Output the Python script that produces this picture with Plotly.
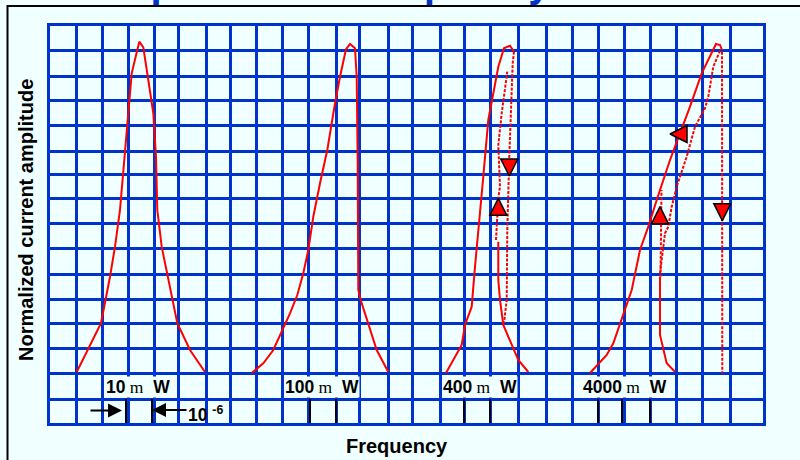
import plotly.graph_objects as go

BG = "#F0FFFF"
GRID = "#0033CC"
RED = "#FF0000"
FONT = "Liberation Sans, Arial, sans-serif"

# ---- axes (arbitrary frequency / amplitude units) ----
X_MAX = 713
Y_MAX = 397
X_GRID = [26, 52, 78, 104, 128, 156, 180, 206, 232, 258, 286, 309, 338, 362,
          390, 414, 440, 468, 496, 522, 548, 574, 600, 626, 652, 680]
Y_GRID = [24, 50, 75, 100, 124, 149, 175, 200, 225, 249, 272, 298, 323, 347, 373]

# ---- 10 uW ----
F10 = [26.7, 51, 60, 65, 70, 73.3, 76.7, 79.3, 81.7, 89.3, 93.3, 98.3, 103.3,
       106, 107.3, 111.7, 118.3, 127.3, 140, 155]
A10 = [51, 99.7, 146.3, 176.3, 213, 253, 293, 326.3, 349.7, 381.3, 375.7, 343,
       309.7, 266.3, 213, 176.3, 143, 99.7, 73, 51]

# ---- 100 uW ----
F100 = [201.7, 213.3, 223.3, 231.7, 240, 247.3, 253.3, 258.3, 263.3, 270, 277.3,
        285, 290, 296, 300, 305, 306.7, 307.7, 308.3, 310.7, 318.3, 326.7, 338.3]
A100 = [50, 59.7, 73, 91.3, 109.7, 128, 149.7, 173, 206.3, 239.7, 273, 319.7,
        346.3, 373.7, 379, 374.7, 346.3, 259.7, 133, 123, 99.7, 73, 51]

# ---- 400 uW ----
F400_UP = [396, 411.7, 415, 421.7, 425, 428.3, 431.7, 433.3, 438.3, 443.3, 448.3, 454, 460, 464]
A400_UP = [50, 78, 98, 116.3, 156.3, 189.7, 223, 246.3, 303, 329.7, 356.3, 374.7, 377.3, 371.3]
F400_DROP = [464, 462.7, 459.3, 457.3, 456.7, 454]
A400_DROP = [371.3, 359.7, 266.3, 193, 123, 99.7]
F400_LOW = [448.3, 448.3, 450, 453.3, 468.3, 478.3]
A400_LOW = [181.3, 143, 123, 98, 63, 51]
F400_JUMP = [446, 448.3, 450, 448.3, 451.7, 457.3]
A400_JUMP = [183, 225, 236.3, 278, 309.7, 351.3]

# ---- 4000 uW ----
F4000_UP = [540, 556.7, 563.3, 573.3, 581.7, 590, 598.3, 606.7, 610, 620, 630,
            640, 651.7, 660, 666, 670, 672]
A4000_UP = [50, 68, 79.7, 109.7, 133, 173, 196.3, 223, 233, 263, 289.7, 316.3,
            349.7, 366.3, 379, 378, 373]
F4000_DROP = [672, 672.3]
A4000_DROP = [371.3, 49.7]
F4000_BACK = [670, 663.3, 658.3, 655, 645, 636.7, 626.7, 621.7, 618.3, 615, 610]
A4000_BACK = [372.3, 356.3, 326.3, 314.7, 296.3, 266.3, 236.3, 216.3, 196.3, 189.7, 149.7]
F4000_JUMP = [610.5, 611.5]
A4000_JUMP = [146.3, 233]
F4000_LOW = [610, 610, 616.7, 625]
A4000_LOW = [146.3, 88, 59.7, 51.3]

# ---- sweep-direction arrows (tip positions) ----
ARROW_F = [459.3, 448.3, 620, 610, 672.3]
ARROW_A = [247, 224.7, 289, 216.3, 202.3]
ARROW_SYM = ["arrow-down", "arrow-up", "arrow-left", "arrow-up", "arrow-down"]

# ---- frequency markers and labels ----
MARK_F = [76, 102, 260, 286, 414, 440, 548, 572, 600]
POWERS = ["10", "100", "400", "4000"]
POWER_F = [88, 272, 430, 575]
LABEL_A = 36.5

fig = go.Figure()


def add_line(x, y, dotted=False):
    fig.add_trace(go.Scatter(
        x=x, y=y, mode="lines", hoverinfo="skip", showlegend=False,
        line=dict(color=RED, width=2, dash="3px,1.5px" if dotted else "solid")))


add_line(F10, A10)
add_line(F100, A100)
add_line(F400_UP, A400_UP)
add_line(F400_DROP, A400_DROP, True)
add_line(F400_LOW, A400_LOW)
add_line(F400_JUMP, A400_JUMP, True)
add_line(F4000_UP, A4000_UP)
add_line(F4000_DROP, A4000_DROP, True)
add_line(F4000_BACK, A4000_BACK, True)
add_line(F4000_JUMP, A4000_JUMP, True)
add_line(F4000_LOW, A4000_LOW)

fig.add_trace(go.Scatter(
    x=ARROW_F, y=ARROW_A, mode="markers", hoverinfo="skip", showlegend=False,
    marker=dict(symbol=ARROW_SYM, size=17, color=RED,
                line=dict(color="black", width=1.5))))

# black frequency marker ticks in bottom row
for f in MARK_F:
    fig.add_shape(type="line", xref="x", yref="y", x0=f, x1=f, y0=0, y1=24,
                  line=dict(color="black", width=2))

# outer black frame
fig.add_shape(type="rect", xref="paper", yref="paper",
              x0=(7.5 - 50) / 713, x1=1.2, y0=-0.3, y1=1 + 20 / 397,
              line=dict(color="black", width=2), fillcolor="rgba(0,0,0,0)")

ann = []
for p, f in zip(POWERS, POWER_F):
    ann.append(dict(
        x=f, y=LABEL_A, xref="x", yref="y", showarrow=False,
        text=p + "<span style=\"font-family:Liberation Serif;font-weight:normal\"> m</span>&nbsp; W",
        font=dict(family=FONT, size=17.5, color="black", weight="bold"),
        bgcolor=BG, borderpad=0, xanchor="center", yanchor="middle"))

ann.append(dict(x=135.7, y=9, xref="x", yref="y", showarrow=False,
                text="10 <sup>-6</sup>", xanchor="left", yanchor="middle",
                font=dict(family=FONT, size=17.5, color="black", weight="bold")))
ann.append(dict(x=72, y=12.5, ax=39, ay=12.5, xref="x", yref="y", axref="x", ayref="y",
                text="", showarrow=True, arrowhead=2, arrowsize=1.4, arrowwidth=2,
                arrowcolor="black", standoff=0))
ann.append(dict(x=102, y=13, ax=138, ay=13, xref="x", yref="y", axref="x", ayref="y",
                text="", showarrow=True, arrowhead=2, arrowsize=1.4, arrowwidth=2,
                arrowcolor="black", standoff=0))

ann.append(dict(x=(84 - 50) / 713, y=1 + 18.5 / 397, xref="paper", yref="paper",
                text="Amplitude vs. frequency", showarrow=False,
                xanchor="left", yanchor="bottom",
                font=dict(family=FONT, size=40, color=GRID, weight="bold")))
ann.append(dict(x=(26 - 50) / 713, y=(423 - 220) / 397, xref="paper", yref="paper",
                text="Normalized current amplitude", showarrow=False, textangle=-90,
                xanchor="center", yanchor="middle",
                font=dict(family=FONT, size=20, color="black", weight="bold")))
ann.append(dict(x=(397 - 50) / 713, y=(423 - 446) / 397, xref="paper", yref="paper",
                text="Frequency", showarrow=False, xanchor="center", yanchor="middle",
                font=dict(family=FONT, size=20, color="black", weight="bold")))

axis_common = dict(showticklabels=False, showgrid=True, gridcolor=GRID, gridwidth=2.5,
                   zeroline=False, showline=True, mirror=True, linecolor=GRID,
                   linewidth=2.5, ticks="", fixedrange=True)

fig.update_layout(
    width=800, height=460,
    margin=dict(l=50, r=37, t=26, b=37, pad=0),
    paper_bgcolor=BG, plot_bgcolor=BG,
    xaxis=dict(range=[0, X_MAX], tickvals=X_GRID, **axis_common),
    yaxis=dict(range=[0, Y_MAX], tickvals=Y_GRID, **axis_common),
    annotations=ann,
    showlegend=False,
)

fig.write_html("out.html", config={"displayModeBar": False},
               post_script="document.body.style.margin='0';")
